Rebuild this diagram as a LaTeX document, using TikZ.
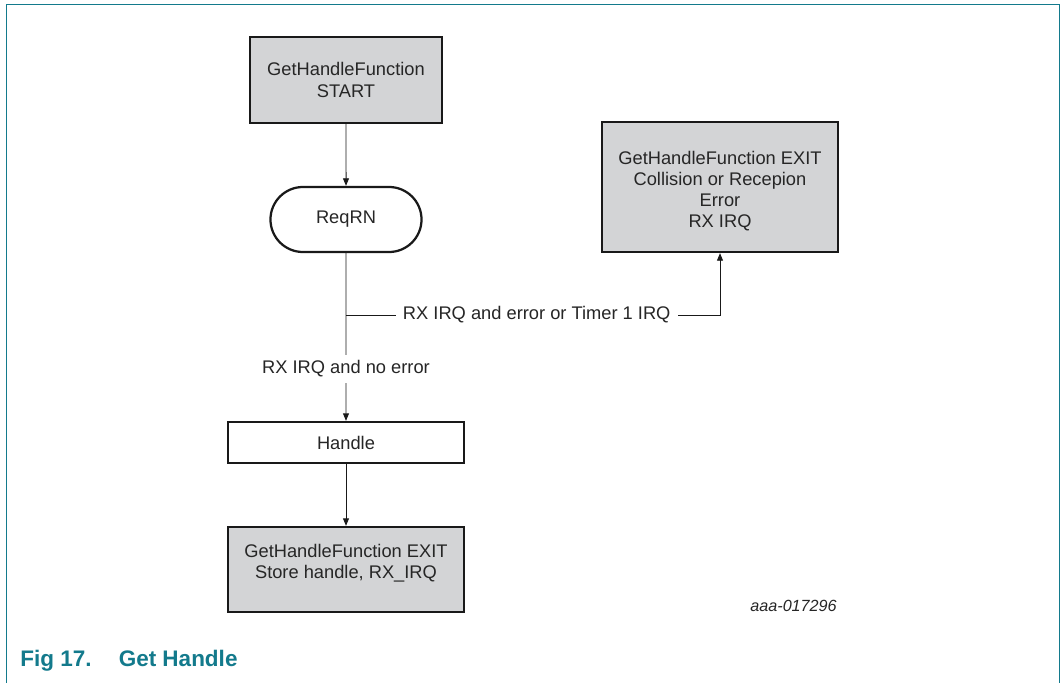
\documentclass[tikz,border=0pt]{standalone}
\usepackage{fontspec}
\setmainfont{Liberation Sans}
\usetikzlibrary{arrows.meta,shapes.misc}

\definecolor{boxGray}{HTML}{D3D4D6}
\definecolor{nxpTeal}{HTML}{137A8C}

\begin{document}
\begin{tikzpicture}[x=0.025cm, y=-0.025cm,
    every node/.style={font=\fontsize{13}{15}\selectfont, text=black!85},
    grayBox/.style={draw=black!90, line width=1.6pt, fill=boxGray, align=center, inner sep=0pt},
    whiteBox/.style={draw=black!90, line width=1.6pt, fill=white, align=center, inner sep=0pt},
    flow/.style={draw=black!90, line width=0.7pt, -{Triangle[length=1.9mm,width=1.5mm]}},
    lbl/.style={fill=white, inner xsep=5pt, inner ysep=4pt}]
    \useasboundingbox (0,0) rectangle (1061,683);

    %frame
    \draw[nxpTeal, line width=0.5pt] (6,683) -- (6,4.5) -- (1059,4.5) -- (1059,683);
    \draw[nxpTeal, line width=1.2pt] (6,4.5) -- (1059,4.5);

    \node[grayBox, minimum width=4.8cm, minimum height=2.15cm] (start) at (346,80) {GetHandleFunction\\START};
    \node[draw=black!90, line width=1.6pt, rounded rectangle, minimum width=3.775cm, minimum height=1.625cm, inner sep=0pt] (reqRN) at (346,219.5) {ReqRN};
    \node[grayBox, minimum width=5.9cm, minimum height=3.25cm] (exitError) at (720,187) {\rule{0pt}{15pt}GetHandleFunction EXIT\\Collision or Recepion\\Error\\RX IRQ};
    \node[whiteBox, minimum width=5.9cm, minimum height=1.025cm] (handle) at (346,442.5) {Handle};
    \node[grayBox, minimum width=5.9cm, minimum height=2.125cm] (exitStore) at (346,569.5) {GetHandleFunction EXIT\\Store handle, RX\_IRQ\\[-3.5pt]};

    \coordinate (split) at (346,315);

    \draw[flow] (start) -- (reqRN);
    \draw[flow] (reqRN) -- node[lbl, pos=0.69] {RX IRQ and no error} (handle);
    \draw[flow] (split) -- node[lbl, pos=0.51] {RX IRQ and error or Timer 1 IRQ} (split -| exitError) -- (exitError);
    \draw[flow] (handle) -- (exitStore);

    \node[font=\fontsize{11.5}{13}\selectfont\itshape, anchor=east, inner sep=0pt] (figId) at (837,606) {aaa-017296};
    \node[font=\fontsize{16}{19}\selectfont\bfseries, text=nxpTeal, anchor=base west, inner sep=0pt] (caption) at (20,666) {Fig 17.\hspace{0.68cm}Get Handle};
\end{tikzpicture}
\end{document}
